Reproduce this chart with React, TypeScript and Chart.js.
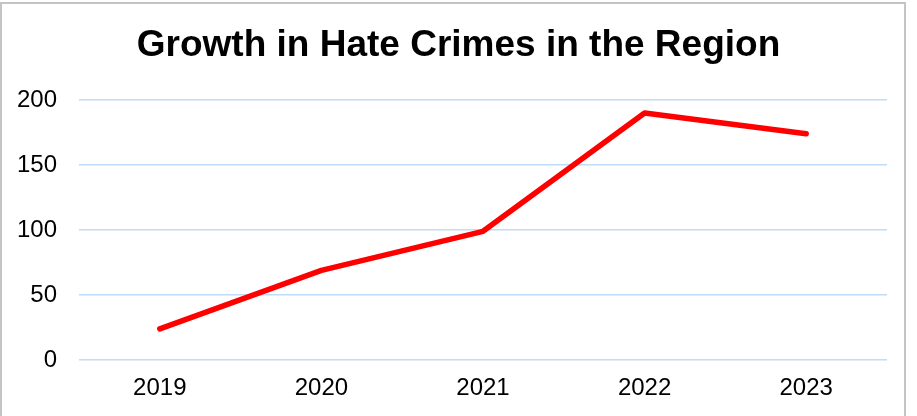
import React, { useEffect, useRef } from "react";
import { Chart, registerables } from "chart.js";

Chart.register(...registerables);

const years = ["2019", "2020", "2021", "2022", "2023"];
const hateCrimes = [24, 69, 99, 190, 174];
const titleText = "Growth in Hate Crimes in the Region";

const titleShift = {
  id: "titleShift",
  afterLayout(chart: any) {
    const tb = chart.titleBlock;
    if (tb) {
      tb.left += 15;
      tb.right += 15;
    }
  },
};

export default function App() {
  const ref = useRef<HTMLCanvasElement | null>(null);

  useEffect(() => {
    if (!ref.current) return;
    const font = "'Liberation Sans', Arial, sans-serif";
    const chart = new Chart(ref.current, {
      type: "line",
      data: {
        labels: years,
        datasets: [
          {
            label: "Hate crimes",
            data: hateCrimes,
            borderColor: "#ff0000",
            backgroundColor: "#ff0000",
            borderWidth: 5.5,
            pointRadius: 0,
            pointHoverRadius: 0,
            tension: 0,
            borderCapStyle: "round",
            borderJoinStyle: "round",
            fill: false,
          },
        ],
      },
      plugins: [titleShift],
      options: {
        responsive: false,
        animation: false,
        layout: { padding: { left: 0, right: 30, top: 0, bottom: 13 } },
        plugins: {
          legend: { display: false },
          tooltip: { enabled: false },
          title: {
            display: true,
            text: titleText,
            color: "#000000",
            font: { family: font, size: 37, weight: "bold" },
            padding: { top: 24, bottom: 31.6 },
          },
        },
        scales: {
          x: {
            offset: true,
            afterFit: (scale: any) => {
              scale.height = 43;
            },
            grid: { display: false, drawTicks: false },
            border: { display: false },
            ticks: {
              color: "#000000",
              font: { family: font, size: 24 },
              padding: 14,
              maxRotation: 0,
            },
          },
          y: {
            min: 0,
            max: 200,
            afterFit: (scale: any) => {
              scale.width = 79;
            },
            grid: { color: "#bfdcf8", lineWidth: 1.5, drawTicks: false },
            border: { display: false },
            ticks: {
              stepSize: 50,
              color: "#000000",
              font: { family: font, size: 24 },
              padding: 22,
            },
          },
        },
      },
    });
    return () => chart.destroy();
  }, []);

  return (
    <div
      style={{
        position: "fixed",
        left: 0,
        top: 0,
        width: 917,
        height: 416,
        overflow: "hidden",
        background: "#ffffff",
      }}
    >
      <div
        style={{
          position: "absolute",
          left: 0,
          top: 2,
          width: 906,
          height: 440,
          border: "2px solid #c4c4c4",
          boxSizing: "border-box",
        }}
      />
      <canvas
        ref={ref}
        width={917}
        height={416}
        style={{ position: "absolute", left: 0, top: 0, width: 917, height: 416 }}
      />
    </div>
  );
}
